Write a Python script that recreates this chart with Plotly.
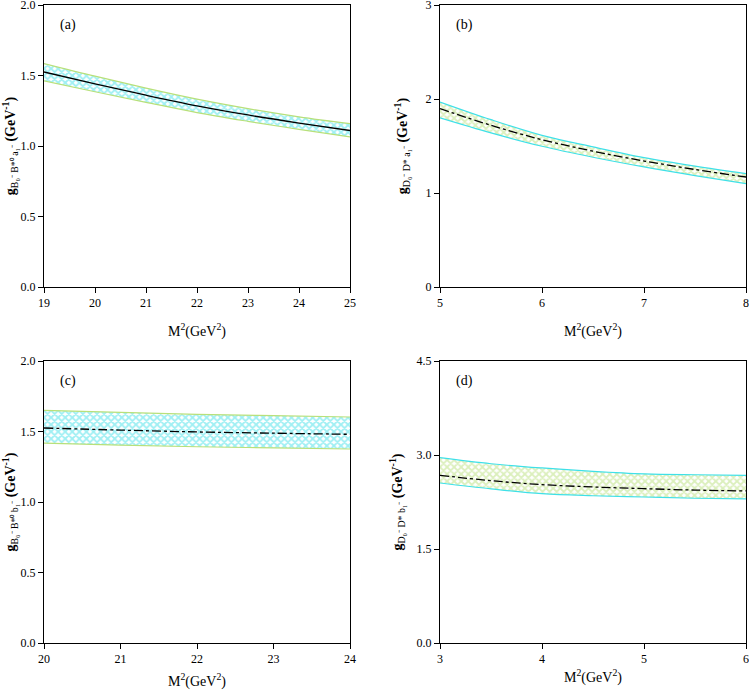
import plotly.graph_objects as go

# Panel (a)
xa = [19, 20, 21, 22, 23, 24, 25]
ca = [1.525, 1.44, 1.36, 1.285, 1.22, 1.163, 1.11]
ua = [1.585, 1.495, 1.41, 1.332, 1.265, 1.207, 1.158]
la = [1.462, 1.385, 1.31, 1.237, 1.175, 1.118, 1.064]
ticks_a = ["0.0", "0.5", "1.0", "1.5", "2.0"]

# Panel (b)
xb = [5, 5.5, 6, 6.5, 7, 7.5, 8]
cb = [1.897, 1.72, 1.567, 1.445, 1.34, 1.25, 1.17]
ub = [1.968, 1.78, 1.613, 1.49, 1.376, 1.285, 1.206]
lb = [1.80, 1.64, 1.497, 1.38, 1.277, 1.185, 1.10]
ticks_b = ["0", "1", "2", "3"]

# Panel (c)
xc = [20, 21, 22, 23, 24]
cc = [1.525, 1.51, 1.497, 1.488, 1.48]
uc = [1.65, 1.635, 1.622, 1.612, 1.603]
lc = [1.418, 1.403, 1.392, 1.384, 1.376]
ticks_c = ["0.0", "0.5", "1.0", "1.5", "2.0"]

# Panel (d)
xd = [3, 3.5, 4, 4.5, 5, 5.5, 6]
cd = [2.676, 2.59, 2.527, 2.49, 2.463, 2.44, 2.426]
ud = [2.957, 2.86, 2.793, 2.74, 2.70, 2.685, 2.676]
ld = [2.553, 2.46, 2.383, 2.35, 2.33, 2.31, 2.30]
ticks_d = ["0.0", "1.5", "3.0", "4.5"]

CYAN = "#3fe0e8"
GREEN = "#b8e07a"
FONT = "Liberation Serif"

W, H = 749, 690
def dx(a, b):
    return [a / W, b / W]
def dy(top, bot):
    return [1 - bot / H, 1 - top / H]

fig = go.Figure()

panels = [
    dict(n="", x=xa, c=ca, u=ua, l=la, hatch=CYAN, edge=GREEN, dash="solid",
         xd=dx(44, 350), yd=dy(5, 287), xr=[19, 25], yr=[0, 2.0], tk=ticks_a,
         lab="(a)", sub="B\u2080\u207b B*\u2070 a\u2081\u207b", xstand=16, ystand=16),
    dict(n="2", x=xb, c=cb, u=ub, l=lb, hatch=GREEN, edge=CYAN, dash="dashdot",
         xd=dx(440, 746), yd=dy(5, 287), xr=[5, 8], yr=[0, 3.0], tk=ticks_b,
         lab="(b)", sub="D\u2080\u207b D* a\u2081\u207b", xstand=16, ystand=14),
    dict(n="3", x=xc, c=cc, u=uc, l=lc, hatch=CYAN, edge=GREEN, dash="dashdot",
         xd=dx(44, 350), yd=dy(361, 643), xr=[20, 24], yr=[0, 2.0], tk=ticks_c,
         lab="(c)", sub="B\u2080\u207b B*\u2070 b\u2081\u207b", xstand=16, ystand=16),
    dict(n="4", x=xd, c=cd, u=ud, l=ld, hatch=GREEN, edge=CYAN, dash="dashdot",
         xd=dx(440, 746), yd=dy(361, 643), xr=[3, 6], yr=[0, 4.5], tk=ticks_d,
         lab="(d)", sub="D\u2080\u207b D* b\u2081\u207b", xstand=6, ystand=10),
]

for p in panels:
    xa_ref = "x" + p["n"]
    ya_ref = "y" + p["n"]
    fig.add_trace(go.Scatter(x=p["x"], y=p["l"], mode="lines", line=dict(color=p["edge"], width=1.2, shape="spline"),
                             xaxis=xa_ref, yaxis=ya_ref, showlegend=False, hoverinfo="skip"))
    fig.add_trace(go.Scatter(x=p["x"], y=p["u"], mode="lines", line=dict(color=p["edge"], width=1.2, shape="spline"),
                             fill="tonexty", fillcolor="rgba(0,0,0,0)",
                             fillpattern=dict(shape="x", fgcolor=p["hatch"], bgcolor="white", size=5, solidity=0.6),
                             xaxis=xa_ref, yaxis=ya_ref, showlegend=False, hoverinfo="skip"))
    fig.add_trace(go.Scatter(x=p["x"], y=p["c"], mode="lines", line=dict(color="black", width=1.3, dash=p["dash"], shape="spline"),
                             xaxis=xa_ref, yaxis=ya_ref, showlegend=False))
    xk = "xaxis" + p["n"]
    yk = "yaxis" + p["n"]
    fig.layout[xk] = dict(domain=p["xd"], range=p["xr"], anchor=ya_ref, dtick=1, tick0=p["xr"][0],
                          showline=True, mirror=True, linecolor="black", linewidth=1, automargin=False,
                          ticks="outside", ticklen=5, tickcolor="black", showgrid=False, zeroline=False,
                          ticklabeloverflow="allow",
                          tickfont=dict(family=FONT, size=12, color="black"),
                          title=dict(text="M<sup>2</sup>(GeV<sup>2</sup>)", font=dict(family=FONT, size=14, color="black"),
                                     standoff=p["xstand"]))
    fig.layout[yk] = dict(domain=p["yd"], range=p["yr"], anchor=xa_ref,
                          tickmode="array", tickvals=[float(t) for t in p["tk"]], ticktext=p["tk"],
                          showline=True, mirror=True, linecolor="black", linewidth=1, automargin=False,
                          ticks="outside", ticklen=5, tickcolor="black", showgrid=False, zeroline=False,
                          ticklabeloverflow="allow",
                          tickfont=dict(family=FONT, size=12, color="black"),
                          title=dict(text="<b>g</b><sub>" + p["sub"] + "</sub> <b>(GeV<sup>-1</sup>)</b>",
                                     font=dict(family=FONT, size=14, color="black"), standoff=p["ystand"]))
    fig.add_annotation(text=p["lab"], xref=xa_ref + " domain", yref=ya_ref + " domain",
                       x=0.045, y=0.965, xanchor="left", yanchor="top", showarrow=False,
                       font=dict(family=FONT, size=14, color="black"))

fig.update_layout(width=W, height=H, margin=dict(l=0, r=0, t=0, b=0),
                  paper_bgcolor="white", plot_bgcolor="white")

fig.write_html("out.html")
